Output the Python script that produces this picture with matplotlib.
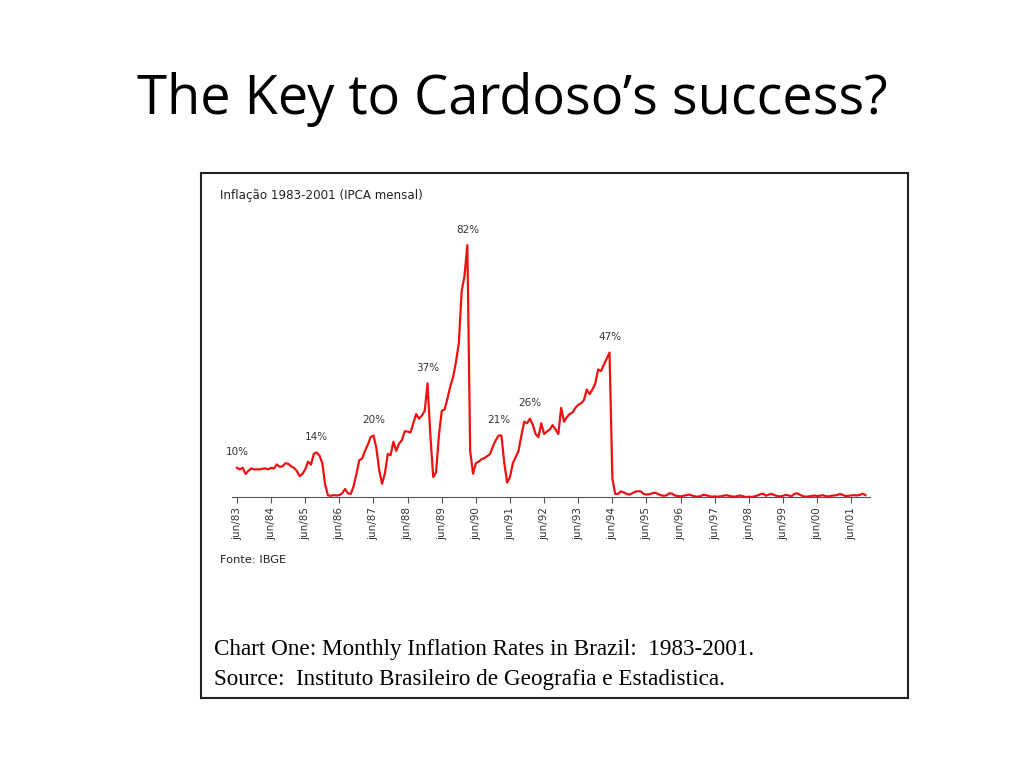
import matplotlib.pyplot as plt
from matplotlib.patches import Rectangle

# monthly IPCA inflation (%), starting jun/83
inflation = [
    # jun/83 - may/84
    9.5, 9.0, 9.5, 7.5, 8.5, 9.3, 9.0, 9.0, 9.0, 9.2, 9.3, 9.0,
    # jun/84 - may/85
    9.5, 9.3, 10.6, 9.8, 10.0, 11.0, 10.8, 10.0, 9.5, 8.5, 6.8, 7.5,
    # jun/85 - may/86
    9.0, 11.5, 10.5, 14.0, 14.5, 13.5, 11.0, 4.0, 0.5, 0.4, 0.6, 0.5,
    # jun/86 - may/87
    0.6, 1.2, 2.6, 1.2, 1.0, 3.5, 7.5, 12.0, 12.5, 15.0, 17.0, 19.5,
    # jun/87 - may/88
    20.0, 16.0, 8.7, 4.3, 7.6, 14.0, 13.6, 18.0, 15.0, 17.4, 18.5, 21.4,
    # jun/88 - may/89
    21.3, 21.0, 24.0, 27.0, 25.5, 26.5, 28.0, 37.0, 20.0, 6.5, 8.0, 20.0,
    # jun/89 - may/90
    28.0, 28.5, 32.0, 36.0, 39.0, 44.0, 50.0, 67.0, 72.0, 82.0, 15.0, 7.6,
    # jun/90 - may/91
    11.0, 11.5, 12.3, 12.7, 13.3, 14.0, 16.5, 18.5, 20.0, 20.0, 11.0, 4.7,
    # jun/91 - may/92
    6.5, 11.0, 13.0, 15.0, 20.0, 24.5, 24.0, 25.5, 23.5, 20.5, 19.5, 24.0,
    # jun/92 - may/93
    20.5, 21.3, 22.0, 23.4, 22.0, 20.5, 29.0, 24.5, 26.0, 27.0, 27.5, 29.0,
    # jun/93 - may/94
    30.0, 30.5, 31.5, 35.0, 33.5, 35.0, 37.0, 41.5, 41.0, 43.0, 45.0, 47.0,
    # jun/94 - jun/95
    6.0, 1.0, 1.0, 1.8, 1.5, 1.0, 0.8, 1.2, 1.7, 1.9, 1.8, 1.0, 0.8,
    # jul/95 - jun/96
    0.9, 1.2, 1.4, 1.0, 0.6, 0.4, 0.5, 1.2, 1.1, 0.5, 0.3, 0.2,
    # jul/96 - jun/97
    0.4, 0.6, 0.8, 0.5, 0.2, 0.1, 0.3, 0.7, 0.6, 0.3, 0.1, 0.2,
    # jul/97 - jun/98
    0.1, 0.2, 0.4, 0.6, 0.4, 0.2, 0.1, 0.3, 0.5, 0.2, 0.0, 0.1,
    # jul/98 - jun/99
    0.0, 0.2, 0.5, 0.9, 1.1, 0.4, 0.8, 1.0, 0.6, 0.3, 0.2, 0.4,
    # jul/99 - jun/00
    0.7, 0.5, 0.2, 1.0, 1.2, 0.7, 0.3, 0.1, 0.2, 0.3, 0.5, 0.3,
    # jul/00 - nov/01
    0.4, 0.6, 0.3, 0.2, 0.4, 0.5, 0.6, 1.0, 0.7, 0.3, 0.4, 0.5,
    0.6, 0.5, 0.7, 1.1, 0.6,
]
tick_labels = [f"jun/{y:02d}" for y in list(range(83, 100)) + [0, 1]]
peak_labels = {0: "10%", 28: "14%", 48: "20%", 67: "37%", 81: "82%",
               92: "21%", 103: "26%", 131: "47%"}

fig = plt.figure(figsize=(10.24, 7.68), dpi=100)
fig.text(0.5, 0.870, "The Key to Cardoso\u2019s success?", ha="center", va="center",
         fontsize=39, family="Open Sans")
fig.patches.append(Rectangle((201 / 1024, 1 - 698 / 768), 707 / 1024, 525 / 768,
                             transform=fig.transFigure, fill=False, lw=1.5,
                             edgecolor="#222222"))

ax = fig.add_axes([232 / 1024, 1 - 497 / 768, 638 / 1024, 267 / 768])
months = list(range(len(inflation)))
ax.plot(months, inflation, color="#ee1111", lw=1.6)
ax.set_xlim(-1.76, 222.6)
ax.set_ylim(0, 86.9)
for s in ["top", "right", "left"]:
    ax.spines[s].set_visible(False)
ax.spines["bottom"].set_color("#555555")
ax.set_yticks([])
ax.set_xticks(range(0, 12 * len(tick_labels), 12))
ax.set_xticklabels(tick_labels, rotation=90, fontsize=7.5, color="#333333")
ax.tick_params(axis="x", length=4, color="#555555")
for i, lab in peak_labels.items():
    ax.annotate(lab, (i, inflation[i]), xytext=(0, 9), textcoords="offset points",
                ha="center", fontsize=7.5, color="#333333")

fig.text(220 / 1024, 1 - 196 / 768, "Inflação 1983-2001 (IPCA mensal)", fontsize=8.6,
         va="center", color="#222222")
fig.text(220 / 1024, 1 - 560 / 768, "Fonte: IBGE", fontsize=8.2, va="center",
         color="#222222")
fig.text(214 / 1024, 1 - 649 / 768, "Chart One: Monthly Inflation Rates in Brazil:  1983-2001.",
         fontsize=16.7, va="center", family="Liberation Serif")
fig.text(214 / 1024, 1 - 680 / 768, "Source:  Instituto Brasileiro de Geografia e Estadistica.",
         fontsize=16.7, va="center", family="Liberation Serif")

fig.savefig("out.png", dpi=100)
